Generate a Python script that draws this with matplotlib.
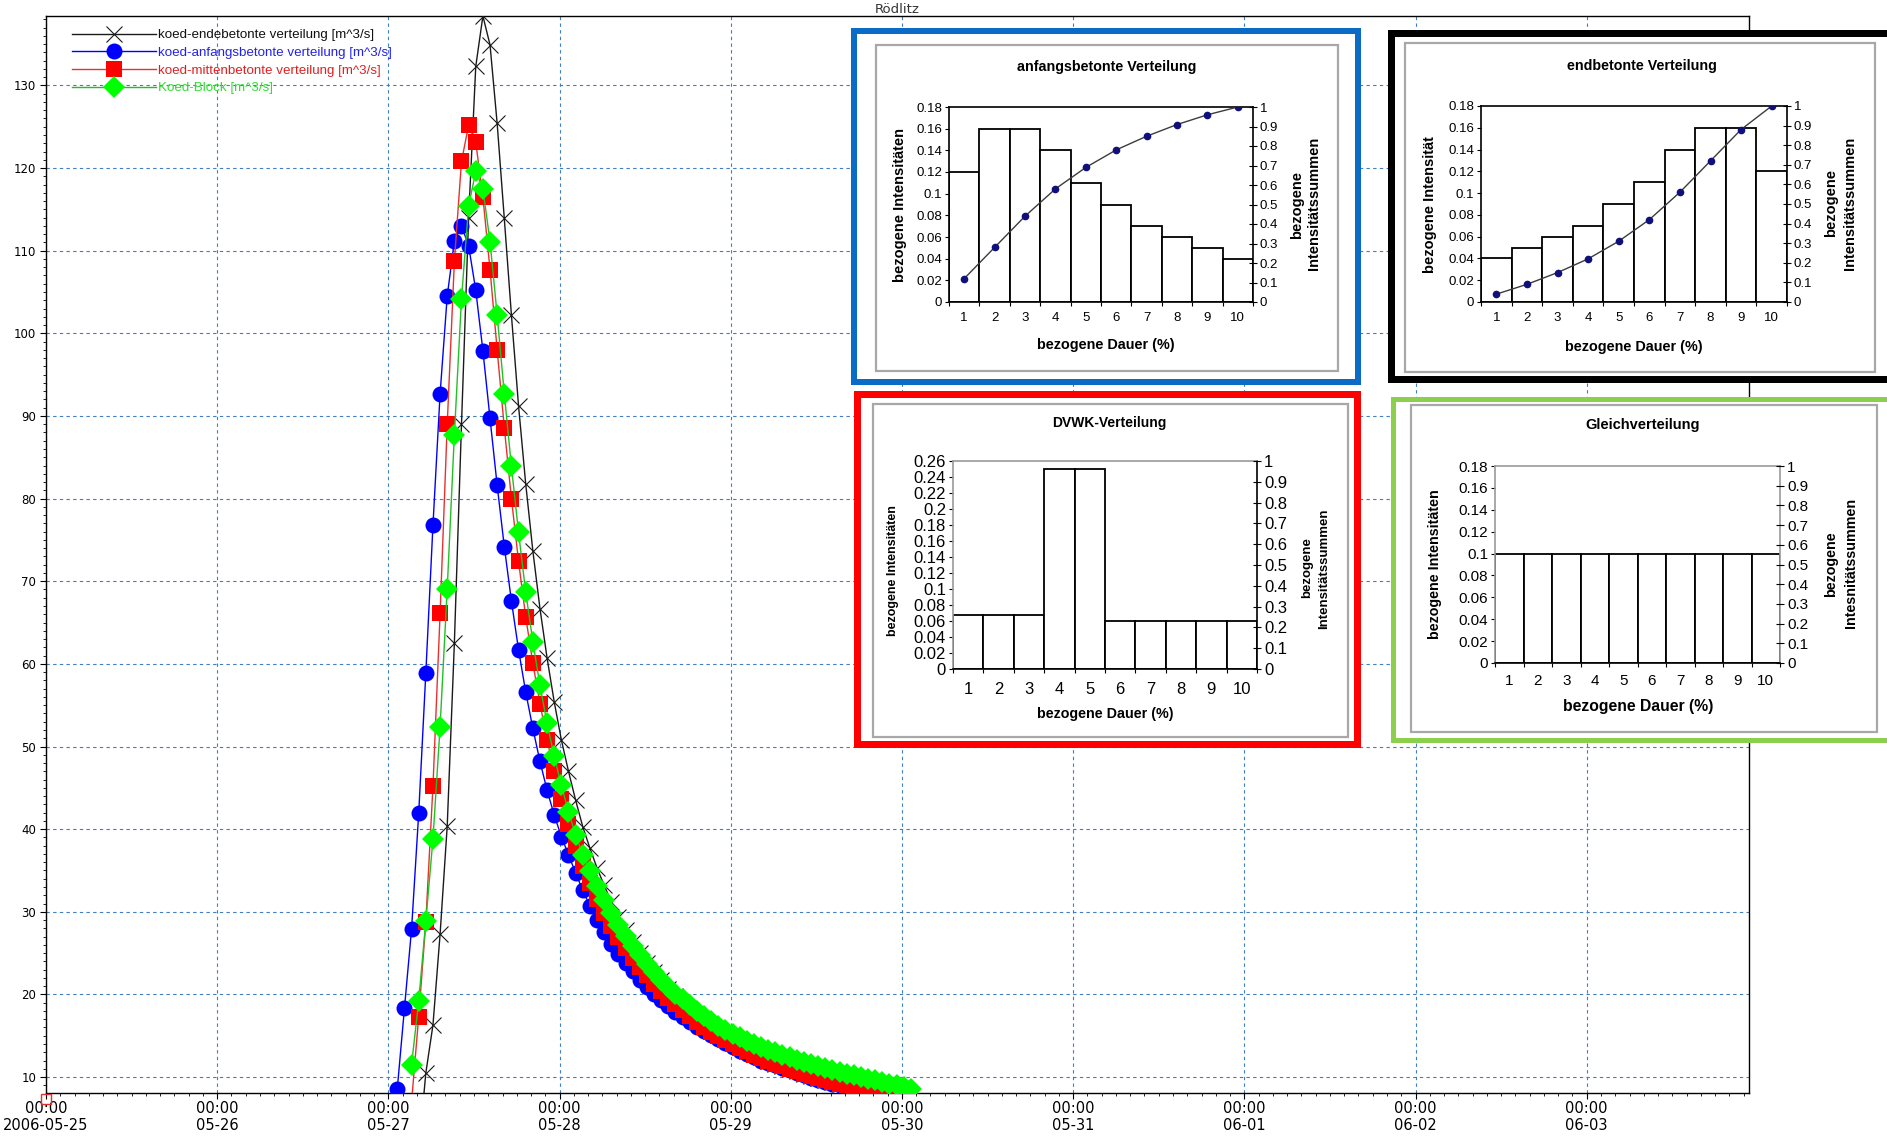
import numpy as np
import matplotlib
matplotlib.use("Agg")
import matplotlib.pyplot as plt
import matplotlib.dates as mdates
from matplotlib.patches import Rectangle
from matplotlib import font_manager

# ------------------------------------------------------------------ data
time_origin = np.datetime64("2006-05-27T00:15")

series_labels = ["koed-endebetonte verteilung [m^3/s]",
                 "koed-anfangsbetonte verteilung [m^3/s]",
                 "koed-mittenbetonte verteilung [m^3/s]",
                 "Koed-Block [m^3/s]"]

endbetont_start_h = 4
endbetont_q = [1.0, 10.5, 16.3, 27.3, 40.4, 62.5, 89.0, 114.0, 132.3, 138.4,
               134.9, 125.4, 113.9, 102.2, 91.2, 81.8, 73.7, 66.7, 60.7, 55.4,
               50.8, 47.0, 43.5, 40.3, 37.7, 35.3, 33.2, 31.2, 29.4, 27.8,
               26.3, 25.0, 23.8, 22.7, 21.7, 20.7, 19.8, 18.9, 18.1, 17.3,
               16.6, 15.9, 15.3, 14.7, 14.2, 13.7, 13.2, 12.8, 12.4, 12.0,
               11.6, 11.3, 11.0, 10.7, 10.4, 10.1, 9.9, 9.6, 9.4, 9.2,
               9.0, 8.8, 8.6, 8.4, 8.2, 8.0, 7.8, 7.6]

anfangsbetont_start_h = 1
anfangsbetont_q = [8.6, 18.3, 27.9, 41.9, 58.9, 76.8, 92.7, 104.5, 111.2, 113.0,
                   110.6, 105.2, 97.9, 89.7, 81.6, 74.2, 67.6, 61.7, 56.6, 52.2,
                   48.2, 44.7, 41.7, 39.1, 36.9, 34.7, 32.6, 30.7, 29.0, 27.5,
                   26.1, 24.9, 23.8, 22.8, 21.8, 20.9, 20.1, 19.3, 18.6, 17.9,
                   17.3, 16.7, 16.1, 15.6, 15.1, 14.6, 14.1, 13.6, 13.2, 12.8,
                   12.4, 12.0, 11.7, 11.4, 11.1, 10.8, 10.5, 10.2, 9.9, 9.7,
                   9.4, 9.2, 9.0, 8.8, 8.6, 8.4, 8.2, 8.0, 7.8, 7.6, 7.4]

mittenbetont_start_h = 3
mittenbetont_q = [7.0, 17.3, 28.8, 45.2, 66.1, 89.0, 108.7, 120.8,
                  125.2, 123.1, 116.5, 107.7, 98.0, 88.6, 80.0, 72.4, 65.7, 60.1,
                  55.2, 50.8, 47.0, 43.6, 40.6, 38.0, 35.6, 33.5, 31.6, 29.9,
                  28.3, 26.9, 25.6, 24.4, 23.3, 22.3, 21.3, 20.4, 19.6, 18.8,
                  18.1, 17.4, 16.7, 16.1, 15.5, 15.0, 14.5, 14.0, 13.5, 13.1,
                  12.7, 12.3, 11.9, 11.6, 11.3, 11.0, 10.7, 10.4, 10.1, 9.9,
                  9.6, 9.4, 9.2, 9.0, 8.8, 8.6, 8.4, 8.2, 8.0, 7.8, 7.6, 7.4]

block_start_h = 3
block_q = [11.5, 19.2, 28.9, 38.8, 52.4, 69.1, 87.7, 104.2,
           115.4, 119.6, 117.5, 111.1, 102.2, 92.7, 83.9, 75.9, 68.7, 62.7,
           57.4, 52.8, 48.8, 45.3, 42.1, 39.3, 36.9, 34.9, 33.1, 31.4,
           29.8, 28.4, 27.1, 25.9, 24.8, 23.7, 22.7, 21.8, 20.9, 20.1,
           19.4, 18.7, 18.0, 17.4, 16.8, 16.2, 15.7, 15.2, 14.8, 14.4,
           14.0, 13.6, 13.3, 13.0, 12.7, 12.4, 12.1, 11.8, 11.6, 11.3,
           11.1, 10.8, 10.6, 10.4, 10.2, 10.0, 9.8, 9.6, 9.4, 9.2, 9.0, 8.8, 8.5]

x_tick_dates = ["2006-05-25", "2006-05-26", "2006-05-27", "2006-05-28", "2006-05-29",
                "2006-05-30", "2006-05-31", "2006-06-01", "2006-06-02", "2006-06-03"]
x_tick_labels = ["00:00\n2006-05-25", "00:00\n05-26", "00:00\n05-27", "00:00\n05-28",
                 "00:00\n05-29", "00:00\n05-30", "00:00\n05-31", "00:00\n06-01",
                 "00:00\n06-02", "00:00\n06-03"]
x_range = ["2006-05-25T00:00", "2006-06-03T22:45"]
y_ticks = [10, 20, 30, 40, 50, 60, 70, 80, 90, 100, 110, 120, 130]
y_range = [8.07, 138.4]
main_title = "Rödlitz"

# inset charts (bezogene Dauer 1..10)
dauer = [1, 2, 3, 4, 5, 6, 7, 8, 9, 10]
anf_bars = [0.12, 0.16, 0.16, 0.14, 0.11, 0.09, 0.07, 0.06, 0.05, 0.04]
anf_cum = [0.12, 0.28, 0.44, 0.58, 0.69, 0.78, 0.85, 0.91, 0.96, 1.0]
end_bars = [0.04, 0.05, 0.06, 0.07, 0.09, 0.11, 0.14, 0.16, 0.16, 0.12]
end_cum = [0.04, 0.09, 0.15, 0.22, 0.31, 0.42, 0.56, 0.72, 0.88, 1.0]
dvwk_bars = [0.067, 0.067, 0.067, 0.25, 0.25, 0.06, 0.06, 0.06, 0.06, 0.06]
gleich_bars = [0.1, 0.1, 0.1, 0.1, 0.1, 0.1, 0.1, 0.1, 0.1, 0.1]
left_ticks_018 = [0, 0.02, 0.04, 0.06, 0.08, 0.1, 0.12, 0.14, 0.16, 0.18]
left_ticks_026 = [0, 0.02, 0.04, 0.06, 0.08, 0.1, 0.12, 0.14, 0.16, 0.18,
                  0.2, 0.22, 0.24, 0.26]
right_ticks = [0, 0.1, 0.2, 0.3, 0.4, 0.5, 0.6, 0.7, 0.8, 0.9, 1]

# ------------------------------------------------------------------ layout helpers
W, H = 1887, 1136
fonts = {f.name for f in font_manager.fontManager.ttflist}
ARIAL = "Liberation Sans" if "Liberation Sans" in fonts else "DejaVu Sans"
NARROW = "Liberation Sans Narrow" if "Liberation Sans Narrow" in fonts else "DejaVu Sans"


def fr(x0, y0, x1, y1):
    """pixel box (top-left origin) -> figure fraction [l, b, w, h]"""
    return [x0 / W, 1 - y1 / H, (x1 - x0) / W, (y1 - y0) / H]


def fx(x):
    return x / W


def fy(y):
    return 1 - y / H


fig = plt.figure(figsize=(W / 100, H / 100), dpi=100)
fig.patch.set_facecolor("white")

# ------------------------------------------------------------------ main chart
ax = fig.add_axes(fr(46, 16, 1749, 1093))
ax.set_zorder(0)

hour = np.timedelta64(1, "h")


def times(start, values):
    return time_origin + (start + np.arange(len(values))) * hour


line_kw = dict(linewidth=1.0)
l_end, = ax.plot(times(endbetont_start_h, endbetont_q), endbetont_q, color="#1a1a1a",
                 marker="x", markersize=12, markeredgewidth=0.8, zorder=3,
                 label=series_labels[0], **line_kw)
l_anf, = ax.plot(times(anfangsbetont_start_h, anfangsbetont_q), anfangsbetont_q,
                 color="#0000ff", marker="o", markersize=11.5, markeredgewidth=0,
                 zorder=4, label=series_labels[1], **line_kw)
l_mit, = ax.plot(times(mittenbetont_start_h, mittenbetont_q), mittenbetont_q,
                 color="#e8312f", marker="s", markersize=11.5, markerfacecolor="#ff0000",
                 markeredgewidth=0, zorder=5, label=series_labels[2], **line_kw)
l_blk, = ax.plot(times(block_start_h, block_q), block_q, color="#22c022",
                 marker="D", markersize=11, markerfacecolor="#00ff00",
                 markeredgewidth=0, zorder=6, label=series_labels[3], **line_kw)

ax.set_xlim(np.datetime64(x_range[0]), np.datetime64(x_range[1]))
ax.set_ylim(*y_range)
ax.set_xticks([mdates.datestr2num(d) for d in x_tick_dates])
ax.set_xticklabels(x_tick_labels, fontsize=10.5, family=NARROW, linespacing=1.15)
ax.xaxis.set_minor_locator(mdates.HourLocator(byhour=range(0, 24, 2)))
ax.set_yticks(y_ticks)
ax.set_yticklabels([str(v) for v in y_ticks], fontsize=8.5, family="DejaVu Sans")
ax.yaxis.set_minor_locator(matplotlib.ticker.MultipleLocator(1))
ax.tick_params(axis="both", which="major", direction="out", length=4, width=0.8,
               color="black", pad=2)
ax.tick_params(axis="both", which="minor", direction="out", length=2.5, width=0.6,
               color="black")
ax.tick_params(axis="y", which="major", pad=3)
ax.grid(True, which="major", color="#3f7fc0", linestyle=(0, (3, 3)), linewidth=0.8)
for s in ax.spines.values():
    s.set_color("black")
    s.set_linewidth(1.0)

leg = ax.legend(handles=[l_end, l_anf, l_mit, l_blk], loc="upper left",
                bbox_to_anchor=(0.0153, 0.988), borderaxespad=0, borderpad=0,
                frameon=False, handlelength=6.3, handletextpad=0.12,
                labelspacing=0.4, numpoints=1,
                prop={"family": ARIAL, "size": 9.6},
                labelcolor=["#111111", "#2222ee", "#e02020", "#33dd33"])
leg.set_zorder(10)

# little red marker at the time origin
ax.plot([0], [-0.006], transform=ax.transAxes, marker="s", markersize=7,
        markerfacecolor="none", markeredgecolor="#e03030", markeredgewidth=1,
        clip_on=False, zorder=7)

fig.text(fx(897), fy(13), main_title, ha="center", va="baseline", fontsize=9.5,
         family="DejaVu Sans", color="#333333")


# ------------------------------------------------------------------ insets
def frame(box, color, lw_px):
    x0, y0, x1, y1 = box
    fig.add_artist(Rectangle((fx(x0), fy(y1)), (x1 - x0) / W, (y1 - y0) / H,
                             transform=fig.transFigure, facecolor="white",
                             edgecolor=color, linewidth=lw_px * 0.72, zorder=2))


def panel(box):
    x0, y0, x1, y1 = box
    fig.add_artist(Rectangle((fx(x0), fy(y1)), (x1 - x0) / W, (y1 - y0) / H,
                             transform=fig.transFigure, facecolor="white",
                             edgecolor="#a8a8a8", linewidth=1.6, zorder=3))


def inset(cfg):
    frame(cfg["frame"], cfg["fcolor"], cfg["flw"])
    panel(cfg["panel"])
    a = fig.add_axes(fr(*cfg["axes"]))
    a.set_zorder(10)
    a.bar(dauer, cfg["bars"], width=1.0, color="white", edgecolor="black",
          linewidth=1.3, zorder=2)
    a.set_xlim(0.5, 10.5)
    a.set_ylim(0, cfg["lt"][-1])
    a.set_yticks(cfg["lt"])
    a.set_yticklabels([f"{v:g}" for v in cfg["lt"]], fontsize=cfg["tfs"], family=ARIAL)
    a.set_xticks(dauer)
    a.set_xticklabels([str(v) for v in dauer], fontsize=cfg["tfs"], family=ARIAL)
    a.set_xticks([d - 0.5 for d in dauer] + [10.5], minor=True)
    a.tick_params(axis="x", which="major", length=0, pad=cfg["xpad"])
    a.tick_params(axis="x", which="minor", length=3, width=0.8, direction="out")
    a.tick_params(axis="y", which="major", length=3, width=0.8, direction="out", pad=2)
    for s in a.spines.values():
        s.set_linewidth(1.2)
        s.set_color("black")
    for name in cfg.get("gray_spines", []):
        a.spines[name].set_color("#999999")
    a2 = a.twinx()
    a2.set_zorder(11)
    a2.set_ylim(0, 1)
    a2.set_yticks(right_ticks)
    a2.set_yticklabels([f"{v:g}" for v in right_ticks], fontsize=cfg["tfs"], family=ARIAL)
    a2.tick_params(axis="y", length=6, width=0.8, direction="inout", pad=2)
    for s in a2.spines.values():
        s.set_visible(False)
    if cfg.get("cum") is not None:
        a2.plot(dauer, cfg["cum"], color="#3c3c3c", linewidth=1.0, marker="o",
                markersize=4.5, markerfacecolor="#10107a", markeredgecolor="#10107a")
    fig.text(fx(cfg["title_xy"][0]), fy(cfg["title_xy"][1]), cfg["title"], ha="center",
             va="center", fontsize=cfg["title_fs"], fontweight="bold", family=ARIAL)
    fig.text(fx(cfg["xl_xy"][0]), fy(cfg["xl_xy"][1]), "bezogene Dauer (%)", ha="center",
             va="center", fontsize=cfg["xl_fs"], fontweight="bold", family=ARIAL)
    fig.text(fx(cfg["yl_xy"][0]), fy(cfg["yl_xy"][1]), cfg["ylabel"], ha="center",
             va="center", rotation=90, fontsize=cfg["yl_fs"], fontweight="bold", family=ARIAL)
    fig.text(fx(cfg["r1_xy"][0]), fy(cfg["r1_xy"][1]), "bezogene", ha="center",
             va="center", rotation=90, fontsize=cfg["rl_fs"], fontweight="bold", family=ARIAL)
    fig.text(fx(cfg["r2_xy"][0]), fy(cfg["r2_xy"][1]), cfg["rlabel"], ha="center",
             va="center", rotation=90, fontsize=cfg["rl_fs"], fontweight="bold", family=ARIAL)


inset(dict(frame=(854, 31, 1358, 382), fcolor="#0a6cc4", flw=6,
           panel=(876, 45, 1338, 371), axes=(949, 107, 1253, 302),
           bars=anf_bars, cum=anf_cum, lt=left_ticks_018, tfs=9.5, xpad=7,
           title="anfangsbetonte Verteilung", title_xy=(1107, 67), title_fs=10.3,
           xl_xy=(1106, 345), xl_fs=10.4, yl_fs=10.5, rl_fs=10.5,
           ylabel="bezogene Intensitäten", yl_xy=(900, 205),
           r1_xy=(1297, 205), r2_xy=(1314, 203), rlabel="Intensitätssummen"))

inset(dict(frame=(1390.5, 32.5, 1895, 378.5), fcolor="black", flw=7,
           panel=(1405, 43, 1875, 372), axes=(1481, 106, 1787, 302),
           bars=end_bars, cum=end_cum, lt=left_ticks_018, tfs=9.5, xpad=7,
           title="endbetonte Verteilung", title_xy=(1642, 66), title_fs=10.3,
           xl_xy=(1634, 347), xl_fs=10.4, yl_fs=10.5, rl_fs=10.5,
           ylabel="bezogene Intensität", yl_xy=(1430, 205),
           r1_xy=(1831, 203), r2_xy=(1850, 203), rlabel="Intensitätssummen"))

inset(dict(frame=(856.5, 393.5, 1356.5, 743.5), fcolor="#ff0000", flw=7,
           panel=(873, 404, 1348, 737), axes=(953, 461, 1257, 669),
           bars=dvwk_bars, cum=None, lt=left_ticks_026, tfs=12, xpad=9,
           title="DVWK-Verteilung", title_xy=(1109, 423), title_fs=10,
           xl_xy=(1105, 714), xl_fs=10.3, yl_fs=9, rl_fs=9.5,
           ylabel="bezogene Intensitäten", yl_xy=(893, 571),
           r1_xy=(1307, 568), r2_xy=(1324, 569), rlabel="Intensitätssummen",
           gray_spines=["top", "left"]))

inset(dict(frame=(1392.5, 399.5, 1895, 739.5), fcolor="#8ccf4d", flw=5,
           panel=(1411, 405, 1877, 732), axes=(1495, 466, 1780, 663),
           bars=gleich_bars, cum=None, lt=left_ticks_018, tfs=11, xpad=8,
           title="Gleichverteilung", title_xy=(1643, 425), title_fs=10.5,
           xl_xy=(1638, 707), xl_fs=11.3, yl_fs=10.3, rl_fs=10.3,
           ylabel="bezogene Intensitäten", yl_xy=(1435, 564),
           r1_xy=(1831, 564), r2_xy=(1851, 563), rlabel="Intesnitätssummen",
           gray_spines=["top", "left", "right"]))

fig.savefig("out.png", dpi=100)
